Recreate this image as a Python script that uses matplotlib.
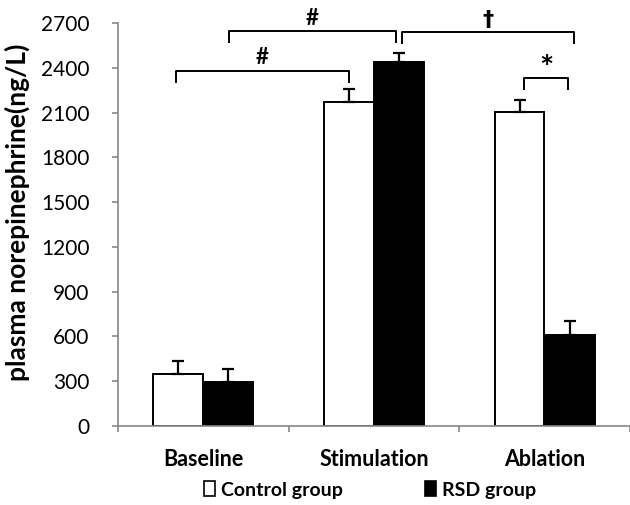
import matplotlib
matplotlib.use("Agg")
import matplotlib.pyplot as plt
import numpy as np
from matplotlib.patches import Patch

categories = ["Baseline", "Stimulation", "Ablation"]
control_vals = [345, 2175, 2105]
control_err = [90, 84, 78]
rsd_vals = [295, 2443, 610]
rsd_err = [83, 60, 93]
yticks = [0, 300, 600, 900, 1200, 1500, 1800, 2100, 2400, 2700]

# significance brackets: (x0, x1, y_top, y_end, symbol)
brackets = [
    (-0.163, 0.855, 2383, 2309, "#"),
    (0.149, 1.126, 2649, 2573, "#"),
    (1.165, 2.17, 2640, 2571, "\u2020"),
    (1.878, 2.137, 2331, 2258, "*"),
]

plt.rcParams['font.family'] = ['Lato', 'DejaVu Sans']

fig = plt.figure(figsize=(6.3, 5.05), dpi=100)
ax = fig.add_axes([118/630, 79.3/505, 512/630, 402.4/505])

x = np.arange(len(categories))
w = 0.29
off = 0.147
ax.bar(x - off, control_vals, w, color="white", edgecolor="black", linewidth=1.4, zorder=2)
ax.bar(x + off, rsd_vals, w, color="black", edgecolor="black", linewidth=1.4, zorder=2)
ax.errorbar(x - off, control_vals, yerr=[np.zeros(3), control_err], fmt="none",
            ecolor="black", elinewidth=1.6, capsize=4, capthick=1.6, zorder=3)
ax.errorbar(x + off, rsd_vals, yerr=[np.zeros(3), rsd_err], fmt="none",
            ecolor="black", elinewidth=1.6, capsize=4, capthick=1.6, zorder=3)

for x0, x1, yt, ye, sym in brackets:
    ax.plot([x0, x0, x1, x1], [ye, yt, yt, ye], color="black", lw=1.4,
            solid_joinstyle="round", clip_on=False, zorder=4)
    if sym == "*":
        ax.text((x0 + x1) / 2, yt - 40, sym, ha="center", va="bottom",
                fontsize=24, fontweight="bold", clip_on=False)
    elif sym == "#":
        ax.text((x0 + x1) / 2, yt + 15, sym, ha="center", va="bottom",
                fontsize=16, fontweight="bold", clip_on=False)
    else:
        ax.text((x0 + x1) / 2, yt + 15, sym, ha="center", va="bottom",
                fontsize=16, fontweight="bold", clip_on=False, family=['DejaVu Sans'])

ax.set_xlim(-0.5, 2.5)
ax.set_ylim(0, 2700)
ax.set_yticks(yticks)
ax.set_yticklabels([str(v) for v in yticks], fontsize=15)
ax.set_xticks([-0.5, 0.5, 1.5, 2.5])
ax.set_xticklabels([])
ax.set_xticks(x, minor=True)
ax.set_xticklabels(categories, minor=True, fontsize=15.5, fontweight="bold")
ax.tick_params(axis="x", which="minor", length=0, pad=17)
ax.tick_params(axis="x", which="major", length=4.5, width=1.2, color="#888888", direction="out")
ax.tick_params(axis="y", length=4.5, width=1.2, color="#888888", direction="out", pad=16)

for s in ["top", "right"]:
    ax.spines[s].set_visible(False)
for s in ["left", "bottom"]:
    ax.spines[s].set_color("#888888")
    ax.spines[s].set_linewidth(1.2)

ax.set_ylabel("plasma norepinephrine(ng/L)", fontsize=19, fontweight="bold")
ax.yaxis.set_label_coords(-88/512, 0.53)

handles = [Patch(facecolor="white", edgecolor="black", linewidth=1.2),
           Patch(facecolor="black", edgecolor="black", linewidth=1.2)]
fig.legend(handles, ["Control group", "RSD group"], loc="center", ncol=2,
           bbox_to_anchor=(370/630, 1 - 490/505), frameon=False,
           prop={"weight": "bold", "size": 14}, handlelength=0.6, handleheight=0.8,
           handletextpad=0.3, columnspacing=4.2)

fig.savefig("out.png", dpi=100)
